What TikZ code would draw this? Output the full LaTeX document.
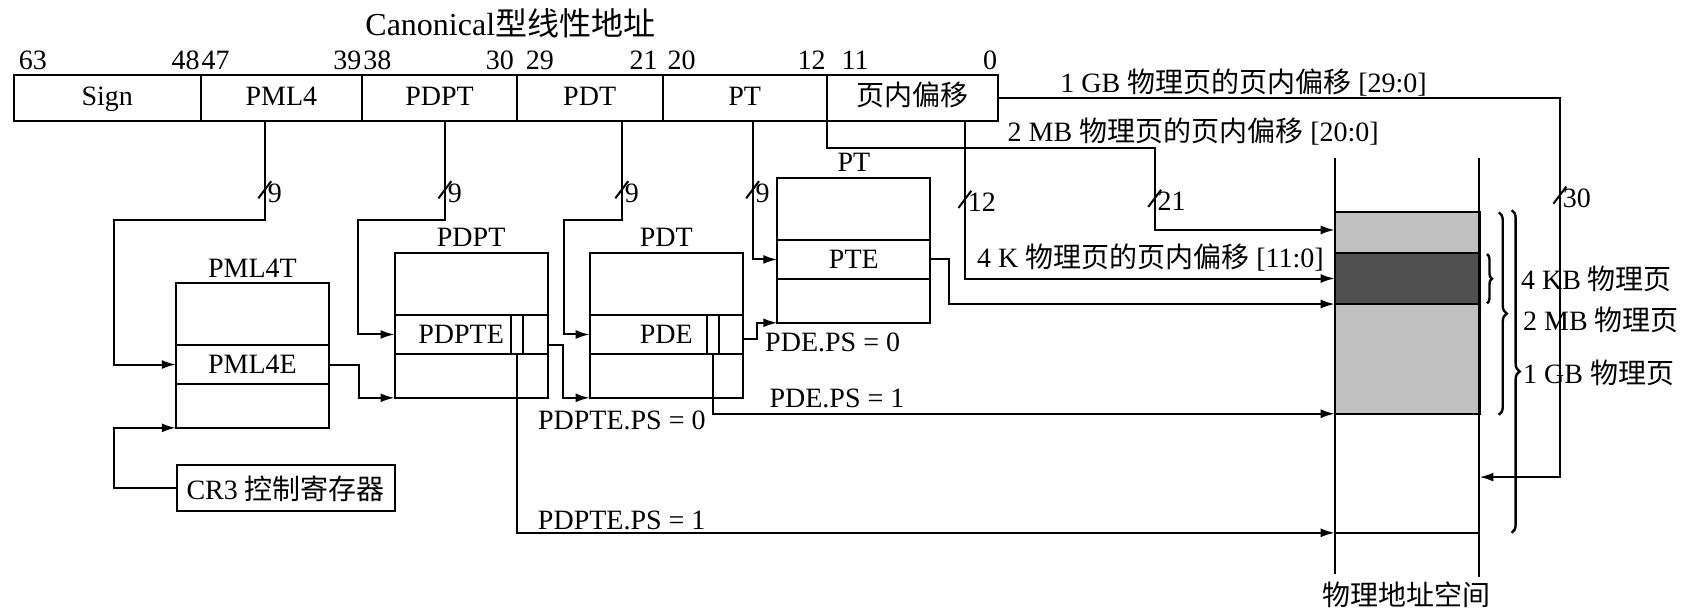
\documentclass[tikz,border=0pt]{standalone}
\usepackage{fontspec}
\setmainfont{Liberation Serif}
\newfontfamily\cjk{Noto Sans CJK SC}
\usetikzlibrary{positioning,calc,arrows.meta,decorations.pathreplacing}
\definecolor{pagegray}{RGB}{192,192,192}
\definecolor{pagedark}{RGB}{80,80,80}

\begin{document}
\begin{tikzpicture}[
    x=0.536pt, y=-0.536pt,
    font=\fontsize{14}{17}\selectfont,
    line width=1pt,
    field/.style={rectangle, draw, minimum height=23pt, inner sep=0pt, outer sep=0pt, text height=9.5pt, text depth=2.5pt},
    tbl/.style={rectangle, draw, minimum width=76.6pt, minimum height=72.4pt, inner sep=0pt, outer sep=0pt, anchor=north west},
    entry/.style={rectangle, draw, minimum width=76.6pt, minimum height=19.3pt, inner sep=0pt, outer sep=0pt, anchor=north west},
    pscell/.style={rectangle, draw, minimum width=5.9pt, minimum height=19.3pt, inner sep=0pt, outer sep=0pt},
    bitno/.style={inner sep=0pt},
    lbl/.style={inner sep=1pt},
    arr/.style={-{Latex[length=7pt,width=4.5pt]}},
    pagebrace/.style={decorate, decoration={brace, amplitude=#1}, line width=1.2pt},
]
    \fill[white] (0,0) rectangle (1568,574);
    \useasboundingbox (0,0) rectangle (1568,574);

    % Canonical linear address
    \node[lbl, font=\fontsize{16}{19}\selectfont] (title) at (476,22) {Canonical{\cjk 型线性地址}};
    \node[field, minimum width=93.3pt, anchor=north west] (sign) at (13,70) {Sign};
    \node[field, minimum width=80.9pt, right=0pt of sign] (pml4f) {PML4};
    \node[field, minimum width=77.2pt, right=0pt of pml4f] (pdptf) {PDPT};
    \node[field, minimum width=72.9pt, right=0pt of pdptf] (pdtf) {PDT};
    \node[field, minimum width=82pt, right=0pt of pdtf] (ptf) {PT};
    \node[field, minimum width=85.8pt, right=0pt of ptf] (offf) {{\cjk 页内偏移}};

    % bit numbers
    \node[bitno, anchor=base west] (b63) at ([xshift=2pt, yshift=3pt]sign.north west) {63};
    \node[bitno, anchor=base east] (b0) at ([yshift=3pt]offf.north east) {0};
    \foreach \f/\t/\d in {sign/48/0, pml4f/39/0, pdptf/30/-1, pdtf/21/-2, ptf/12/0}
        \node[bitno, anchor=base east] (b\t) at ([xshift=\d pt, yshift=3pt]\f.north east) {\t};
    \foreach \f/\t/\d in {pml4f/47/0, pdptf/38/0, pdtf/29/4, ptf/20/2, offf/11/7}
        \node[bitno, anchor=base west] (b\t) at ([xshift=\d pt, yshift=3pt]\f.north west) {\t};

    % tap points
    \coordinate (tpml4) at ($(pml4f.south west)!0.4!(pml4f.south east)$);
    \coordinate (tpdpt) at ($(pdptf.south west)!0.535!(pdptf.south east)$);
    \coordinate (tpdt) at ($(pdtf.south west)!0.72!(pdtf.south east)$);
    \coordinate (tpt) at ($(ptf.south west)!0.55!(ptf.south east)$);
    \coordinate (t4k) at ($(offf.south west)!0.806!(offf.south east)$);

    % paging tables
    \node[tbl] (pml4t) at (164,264) {};
    \node[entry] (pml4e) at ($(pml4t.north west)+(0,58)$) {PML4E};
    \node[above=2pt of pml4t, inner sep=0.5pt] (pml4tl) {PML4T};

    \node[tbl] (pdpt) at (368,236) {};
    \node[entry] (pdpte) at ($(pdpt.north west)+(0,58)$) {PDPTE\kern10pt};
    \node[pscell] (pdpteps) at ($(pdpte.east)+(-28.5,0)$) {};
    \node[above=2pt of pdpt, inner sep=0.5pt] (pdptl) {PDPT};

    \node[tbl] (pdt) at (550,236) {};
    \node[entry] (pde) at ($(pdt.north west)+(0,58)$) {PDE};
    \node[pscell] (pdeps) at ($(pde.east)+(-27.5,0)$) {};
    \node[above=2pt of pdt, inner sep=0.5pt] (pdtl) {PDT};

    \node[tbl] (pt) at (725,166) {};
    \node[entry] (pte) at ($(pt.north west)+(0,58)$) {PTE};
    \node[above=2pt of pt, inner sep=0.5pt] (ptl) {PT};

    \node[rectangle, draw, minimum width=108.8pt, minimum height=23pt, inner xsep=2pt] (cr3) at (266.5,455.5) {CR3 {\cjk 控制寄存器}};

    % physical address space
    \coordinate (physnw) at (1245,147);
    \coordinate (physne) at (1380,147);
    \node[rectangle, draw, fill=pagegray, minimum width=72.4pt, minimum height=101pt, inner sep=0pt, outer sep=0pt, anchor=north west] (page2m) at (1245,197.5) {};
    \node[rectangle, draw, fill=pagedark, minimum width=72.4pt, minimum height=25.5pt, inner sep=0pt, outer sep=0pt, anchor=north west] (page4k) at (1245,236) {};
    \draw (physnw) -- (1245,535);
    \draw (physne) -- (1380,538);
    \coordinate (p2m) at (1245,214.5);
    \coordinate (p1g) at (1380,445);
    \coordinate (pgbase) at (1245,497);
    \draw (pgbase) -- (1380,497);
    \node[lbl] (physl) at (1312,555) {{\cjk 物理地址空间}};

    % braces
    \draw[pagebrace=2.5pt] (1387,237) -- (1387,283);
    \draw[pagebrace=4pt] (1398,198) -- (1398,387);
    \draw[pagebrace=4pt] (1410,196) -- (1410,497);
    \node[lbl, anchor=west] (l4k) at (1416,260) {4 KB {\cjk 物理页}};
    \node[lbl, anchor=west] (l2m) at (1418,298) {2 MB {\cjk 物理页}};
    \node[lbl, anchor=west] (l1g) at (1418,348) {1 GB {\cjk 物理页}};

    % index lines
    \draw[arr] (tpml4) |- (106,205) |- (pml4e.west);
    \draw[arr] (tpdpt) |- (334,205) |- (pdpte.west);
    \draw[arr] (tpdt) |- (526,205) |- (pde.west);
    \draw[arr] (tpt) |- (pte.west);
    \draw[arr] (cr3.west) -- ++(-58,0) |- (pml4t.south west);

    % table to table
    \draw[arr] (pml4e.east) -- ++(28,0) |- (pdpt.south west);
    \draw[arr] ($(pdpte.east)+(0,10)$) -- ++(14,0) |- (pdt.south west);
    \draw[arr] ($(pde.east)+(0,4)$) -- ++(13,0) |- (pt.south west);
    \node[lbl, anchor=west] (pde0) at (711,319) {PDE.PS = 0};
    \node[lbl, anchor=west] (pde1) at (715,372) {PDE.PS = 1};
    \node[lbl] (pdpte0) at (580,392) {PDPTE.PS = 0};
    \node[lbl, anchor=west] (pdpte1) at (499,485) {PDPTE.PS = 1};

    % to physical pages
    \draw[arr] (pte.east) -- ++(17,0) |- (page4k.south west);
    \draw[arr] (pdeps.south) |- (page2m.south west);
    \draw[arr] (pdpteps.south) |- (pgbase);

    % page offsets
    \node[lbl] (off1g) at (1160,77) {1 GB {\cjk 物理页的页内偏移} [29:0]};
    \node[lbl] (off2m) at (1113,123) {2 MB {\cjk 物理页的页内偏移} [20:0]};
    \node[lbl] (off4k) at (1073,240) {4 K {\cjk 物理页的页内偏移} [11:0]};
    \draw[arr] (t4k) |- (page4k.west);
    \draw[arr] (ptf.south east) |- (1077,138) |- (p2m);
    \draw[arr] (offf.east) -| (1455,445) -- (p1g);

    % bus widths
    \foreach \x/\y/\w in {247/177/9, 415/177/9, 580/177/9, 702/177/9, 900/186/12, 1077/185/21, 1455/182/30}{
        \draw (\x-6,\y+8) -- (\x+6,\y-8);
        \node[lbl, anchor=west, inner sep=0.5pt] (w\x) at (\x+1,\y+3) {\w};
    }
\end{tikzpicture}
\end{document}
